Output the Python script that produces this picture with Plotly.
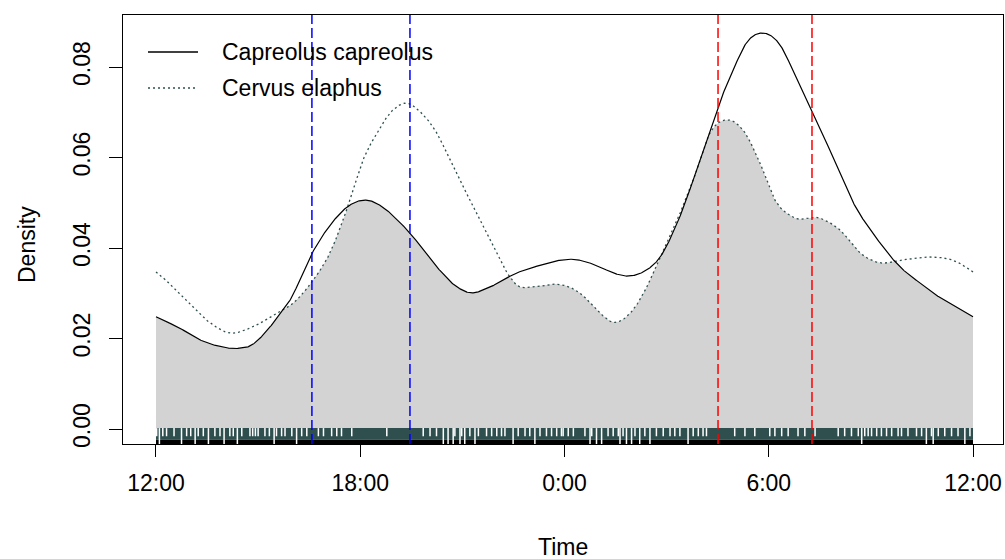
import numpy as np
import plotly.graph_objects as go

# ---------------- data ----------------
# Kernel density curves (hour on a 12:00 -> 12:00 axis, 24 = midnight)
capreolus_h = [12.0, 12.65, 13.29, 13.9, 14.4, 14.8, 15.15, 15.55, 15.94, 16.56, 17.11, 17.70,
               18.14, 18.67, 19.05, 19.46, 20.25, 20.84, 21.22, 21.81, 22.6, 23.2, 23.87, 24.25,
               24.7, 25.04, 25.5, 25.84, 26.31, 26.81, 27.31, 27.98, 28.51, 28.95, 29.36, 29.83,
               30.33, 30.71, 31.27, 31.89, 32.47, 33.18, 33.86, 34.4, 34.83, 35.4, 36.0]
capreolus_d = [0.0248, 0.0225, 0.0197, 0.0182, 0.0178, 0.0185, 0.0208, 0.0245, 0.0285, 0.0385, 0.0450, 0.0495,
               0.0506, 0.0490, 0.0465, 0.0433, 0.0358, 0.0314, 0.0301, 0.0314, 0.0345, 0.0360, 0.0373, 0.0375,
               0.0368, 0.0358, 0.0343, 0.0338, 0.0347, 0.0380, 0.0455, 0.0594, 0.0712, 0.0793, 0.0855, 0.0875,
               0.0849, 0.0793, 0.0705, 0.0600, 0.0502, 0.0420, 0.0358, 0.0325, 0.0300, 0.0275, 0.0248]

cervus_h = [12.0, 12.8, 13.6, 14.17, 14.76, 15.55, 16.03, 16.56, 17.11, 17.70, 18.08, 18.49, 18.96,
            19.37, 19.76, 20.25, 20.64, 21.22, 21.81, 22.31, 22.6, 23.08, 23.78, 24.1, 24.46, 25.04,
            25.43, 25.93, 26.42, 26.81, 27.31, 27.78, 28.27, 28.77, 29.24, 29.74, 30.13, 30.71, 31.5,
            32.09, 32.68, 33.27, 33.86, 34.83, 35.41, 36.0]
cervus_d = [0.0347, 0.0292, 0.0234, 0.0212, 0.0223, 0.0256, 0.0278, 0.0323, 0.0389, 0.0506, 0.0594, 0.0654, 0.0705,
            0.0720, 0.0701, 0.0654, 0.0594, 0.0506, 0.0418, 0.0345, 0.0318, 0.0314, 0.0320, 0.0315, 0.0300, 0.0256,
            0.0236, 0.0256, 0.0314, 0.0380, 0.0462, 0.0550, 0.0654, 0.0683, 0.0661, 0.0588, 0.0513, 0.0468, 0.0466,
            0.0440, 0.0389, 0.0367, 0.0373, 0.0380, 0.0373, 0.0347]

# sunset (blue) and sunrise (red) times, clock hours
sunset_times = [16.58, 19.46]
sunrise_times = [4.51, 7.27]

# rug: positions (hours) where the slate rug band shows gaps, and where gaps cut through both bands
rug_gaps = [12.02, 12.20, 12.31, 12.53, 12.90, 13.02, 13.24, 13.39, 13.73, 13.88, 14.17, 14.27,
            14.52, 14.76, 14.84, 14.92, 15.00, 15.20, 15.33, 15.54, 15.69, 15.79, 15.99, 16.28,
            16.43, 16.77, 16.92, 17.16, 17.31, 17.45, 17.75, 18.78, 19.85, 20.05, 20.24, 20.78,
            20.98, 21.22, 21.47, 21.71, 21.86, 22.01, 22.15, 22.25, 22.64, 22.84, 22.98, 23.28,
            23.47, 23.62, 23.77, 23.91, 23.96, 24.11, 24.26, 24.60, 24.80, 25.28, 25.43, 25.58,
            25.72, 26.07, 26.36, 26.70, 26.90, 27.10, 27.24, 27.39, 27.78, 27.93, 28.07, 28.17,
            29.00, 29.30, 29.59, 30.03, 30.18, 30.38, 30.57, 30.86, 31.06, 31.36, 32.04, 32.23,
            32.43, 32.63, 32.82, 32.92, 33.02, 33.17, 33.31, 33.46, 33.61, 33.80, 33.90, 34.09,
            34.34, 34.49, 34.78, 34.98, 35.17, 35.37, 35.56, 35.91]
rug_full_gaps = [12.10, 12.75, 13.15, 13.54, 14.00, 14.39, 15.47, 16.13, 20.44, 20.58, 20.73,
                 20.93, 21.07, 21.37, 22.49, 23.13, 24.75, 24.94, 25.09, 25.63, 25.82, 25.97,
                 26.21, 26.51, 27.63, 32.73, 34.63, 34.83, 35.76]

tick_vals = [12, 18, 24, 30, 36]
tick_text = ["12:00", "18:00", "0:00", "6:00", "12:00"]
y_ticks = [0.0, 0.02, 0.04, 0.06, 0.08]
y_text = ["0.00", "0.02", "0.04", "0.06", "0.08"]

# ---------------- styling / geometry ----------------
W, H = 1005, 559
L, R, T, B = 123, 1003, 15, 444
FONT = "Liberation Sans, Arial, sans-serif"
FS = 23
SLATE = "#2F4F4F"

X_RANGE = [12 - (156 - L) / 34.05, 36 + (R - 973) / 34.05]
Y_RANGE = [-(B - 429) / 4525, (429 - T) / 4525]
rug_top, rug_mid, rug_bot = 0.0002, -0.0024, Y_RANGE[0]


def px(xp):
    return (xp - L) / (R - L)


def py(yp):
    return (B - yp) / (B - T)


def smooth(xs, ys, grid):
    """Cubic Hermite curve through the read points (periodic slopes at the ends)."""
    x = np.asarray(xs, float)
    y = np.asarray(ys, float)
    n = len(x)
    m = np.zeros(n)
    for i in range(n):
        if 0 < i < n - 1:
            x0, x1, x2 = x[i - 1], x[i], x[i + 1]
            y0, y1, y2 = y[i - 1], y[i], y[i + 1]
        else:  # wrap around the 24 h circle
            x0, y0 = x[-2] - 24, y[-2]
            x1, y1 = x[0], y[0]
            x2, y2 = x[1], y[1]
            if i == n - 1:
                x0, x1, x2 = x0 + 24, x1 + 24, x2 + 24
        d0 = (y1 - y0) / (x1 - x0)
        d1 = (y2 - y1) / (x2 - x1)
        m[i] = (d0 * (x2 - x1) + d1 * (x1 - x0)) / (x2 - x0)
    idx = np.clip(np.searchsorted(x, grid) - 1, 0, n - 2)
    h = x[idx + 1] - x[idx]
    t = (grid - x[idx]) / h
    h00 = 2 * t**3 - 3 * t**2 + 1
    h10 = t**3 - 2 * t**2 + t
    h01 = -2 * t**3 + 3 * t**2
    h11 = t**3 - t**2
    return h00 * y[idx] + h10 * h * m[idx] + h01 * y[idx + 1] + h11 * h * m[idx + 1]


grid = np.linspace(12, 36, 1441)
cap_s = smooth(capreolus_h, capreolus_d, grid)
cer_s = smooth(cervus_h, cervus_d, grid)
ov = np.minimum(cap_s, cer_s)

fig = go.Figure()

# overlap region (minimum of the two densities)
fig.add_trace(go.Scatter(x=grid, y=ov, mode="lines", line=dict(width=0), fill="tozeroy",
                         fillcolor="#D3D3D3", hoverinfo="skip", showlegend=False))

# rug bands
fig.add_trace(go.Scatter(x=[12, 36, 36, 12, 12], y=[rug_mid, rug_mid, rug_top, rug_top, rug_mid],
                         mode="lines", line=dict(width=0), fill="toself", fillcolor=SLATE,
                         hoverinfo="skip", showlegend=False))
fig.add_trace(go.Scatter(x=[12, 36, 36, 12, 12], y=[rug_bot, rug_bot, rug_mid, rug_mid, rug_bot],
                         mode="lines", line=dict(width=0), fill="toself", fillcolor="black",
                         hoverinfo="skip", showlegend=False))
gx, gy = [], []
for g in rug_gaps:
    gx += [g, g, None]
    gy += [rug_top, rug_mid + 0.0008, None]
fig.add_trace(go.Scatter(x=gx, y=gy, mode="lines", line=dict(color="white", width=1.5),
                         hoverinfo="skip", showlegend=False))
fx, fy = [], []
for g in rug_full_gaps:
    fx += [g, g, None]
    fy += [rug_top, rug_bot, None]
fig.add_trace(go.Scatter(x=fx, y=fy, mode="lines", line=dict(color="white", width=1.5),
                         hoverinfo="skip", showlegend=False))

# density curves
fig.add_trace(go.Scatter(x=grid, y=cer_s, mode="lines", name="Cervus elaphus",
                         line=dict(color=SLATE, width=1.3, dash="2px,3px"), showlegend=False))
fig.add_trace(go.Scatter(x=grid, y=cap_s, mode="lines", name="Capreolus capreolus",
                         line=dict(color="black", width=1.2), showlegend=False))

shapes = []
for t in sunset_times:
    shapes.append(dict(type="line", xref="x", yref="paper", x0=t, x1=t, y0=0, y1=1,
                       line=dict(color="blue", width=1.5, dash="10px,4px"), layer="above"))
for t in sunrise_times:
    shapes.append(dict(type="line", xref="x", yref="paper", x0=t + 24, x1=t + 24, y0=0, y1=1,
                       line=dict(color="red", width=1.5, dash="10px,4px"), layer="above"))
# legend samples
shapes.append(dict(type="line", xref="paper", yref="paper", x0=px(148), x1=px(198), y0=py(52), y1=py(52),
                   line=dict(color="black", width=1.3)))
shapes.append(dict(type="line", xref="paper", yref="paper", x0=px(148), x1=px(198), y0=py(88), y1=py(88),
                   line=dict(color=SLATE, width=1.3, dash="2px,3px")))

annotations = [
    dict(text="Capreolus capreolus", xref="paper", yref="paper", x=px(220), y=py(52),
         xanchor="left", yanchor="middle", showarrow=False, font=dict(size=FS, color="black", family=FONT)),
    dict(text="Cervus elaphus", xref="paper", yref="paper", x=px(220), y=py(88),
         xanchor="left", yanchor="middle", showarrow=False, font=dict(size=FS, color="black", family=FONT)),
    dict(text="Time", xref="paper", yref="paper", x=px(563), y=py(547),
         xanchor="center", yanchor="middle", showarrow=False, font=dict(size=FS, color="black", family=FONT)),
    dict(text="Density", xref="paper", yref="paper", x=px(27), y=py(245), textangle=-90,
         xanchor="center", yanchor="middle", showarrow=False, font=dict(size=FS, color="black", family=FONT)),
]

fig.update_layout(
    width=W, height=H,
    margin=dict(l=L, r=W - R, t=T, b=H - B, pad=0),
    paper_bgcolor="white", plot_bgcolor="white",
    font=dict(family=FONT, size=FS, color="black"),
    shapes=shapes, annotations=annotations, showlegend=False,
    xaxis=dict(range=X_RANGE, tickvals=tick_vals, ticktext=tick_text, ticks="outside", ticklen=12,
               tickcolor="black", tickwidth=1, showline=True, linecolor="black", linewidth=1, mirror=True,
               showgrid=False, zeroline=False, ticklabelstandoff=6,
               tickfont=dict(size=FS, color="black", family=FONT)),
    yaxis=dict(range=Y_RANGE, tickvals=y_ticks, ticktext=y_text, ticks="outside", ticklen=13,
               tickcolor="black", tickwidth=1, showline=True, linecolor="black", linewidth=1, mirror=True,
               showgrid=False, zeroline=False, tickangle=-90, ticklabelstandoff=10,
               tickfont=dict(size=FS, color="black", family=FONT)),
)

fig.write_html("out.html")
